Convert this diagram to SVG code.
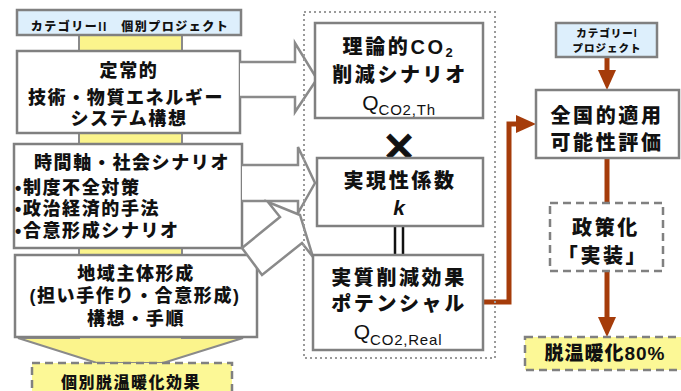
<svg xmlns="http://www.w3.org/2000/svg" width="681" height="391" viewBox="0 0 681 391">
<defs>
<style>
.box{fill:#fff;stroke:#808080;stroke-width:2.5}
.blue{fill:#ddeffc;stroke:#808080;stroke-width:2.5}
.dash{stroke:#808080;stroke-width:2.5;stroke-dasharray:8 5}
.yel{fill:#fcf896}
.band{fill:#fbf48c;stroke:#8a8a8a;stroke-width:2}
.fat{fill:#fff;stroke:#8a8a8a;stroke-width:2.5;stroke-linejoin:miter}
.brown{stroke:#a53c0a;stroke-width:5;fill:none}
.t{font-family:"Liberation Sans","Noto Sans CJK JP",sans-serif;font-weight:900;fill:#111;text-anchor:middle}
.l{text-anchor:start}
.s12{font-size:12px;letter-spacing:1.5px}
.s11{font-size:10.5px;letter-spacing:1px}
.s16{font-size:16px;letter-spacing:1.5px}
.s18{font-size:18px;letter-spacing:1.6px}
.s20{font-size:20px;letter-spacing:2.6px}
.q{font-family:"Liberation Sans",sans-serif;font-size:21px;fill:#111;text-anchor:middle}
</style>
<marker id="ah" viewBox="0 0 20 18" refX="4" refY="9" markerWidth="20" markerHeight="18" orient="auto" markerUnits="userSpaceOnUse">
<path d="M0,0 L20,9 L0,18 Z" fill="#a53c0a"/>
</marker>
</defs>
<rect width="681" height="391" fill="#fff"/>

<g id="band">
<path class="band" d="M79,35 L182,35 L182,338 L243,338 L163,363 L97,363 L18,338 L79,338 Z"/>
</g>

<g id="cat2">
<rect class="blue" x="17" y="10" width="224" height="25"/>
<text class="t s12" x="130" y="30.5">カテゴリーII　個別プロジェクト</text>
</g>

<g id="steady">
<rect class="box" x="17" y="51" width="223" height="82"/>
<text class="t s18" x="129" y="77">定常的</text>
<text class="t s18" x="126" y="104">技術・物質エネルギー</text>
<text class="t s18" x="129" y="125">システム構想</text>
</g>

<g id="social">
<rect class="box" x="14" y="144" width="228" height="104"/>
<text class="t s18" x="132" y="168.5">時間軸・社会シナリオ</text>
<text class="t s18 l" x="15" y="193.5">•制度不全対策</text>
<text class="t s18 l" x="15" y="215">•政治経済的手法</text>
<text class="t s18 l" x="15" y="237">•合意形成シナリオ</text>
</g>

<g id="local">
<rect class="box" x="15" y="255" width="242" height="82"/>
<text class="t s18" x="136" y="280">地域主体形成</text>
<text class="t s18" x="135" y="302">(担い手作り・合意形成)</text>
<text class="t s18" x="136" y="325">構想・手順</text>
</g>

<g id="connectors">
<path class="fat" d="M240,62 H295 V43 L317,79 L295,112 V97 H240"/>
<path class="fat" d="M242,165 H298 V147 L315,183 L298,213 V201 H242"/>
<path class="fat" d="M242,248 L280,217 L268,202 L300,215 L313,257 L302,243 L262,275 Z"/>
<line x1="395" y1="227" x2="395" y2="254" stroke="#111" stroke-width="2.5"/>
<line x1="403" y1="227" x2="403" y2="254" stroke="#111" stroke-width="2.5"/>
<path class="brown" d="M607,57 V74" marker-end="url(#ah)"/>
<path class="brown" d="M483,302 H509 V124 H520" marker-end="url(#ah)"/>
<path class="brown" d="M607,158 V203"/>
<path class="brown" d="M607,271 V321" marker-end="url(#ah)"/>
</g>

<g id="container">
<rect x="304" y="12" width="191" height="346" fill="none" stroke="#9a9a9a" stroke-width="2" stroke-dasharray="2 3"/>
</g>

<g id="theory">
<rect class="box" x="315" y="23" width="168" height="95"/>
<text class="t s20" x="399" y="53.5">理論的CO<tspan font-size="13" dy="3.5">2</tspan></text>
<text class="t s20" x="400" y="81.5">削減シナリオ</text>
<text class="q" x="399" y="110">Q<tspan font-size="15" dy="5" letter-spacing="0.8">CO2,Th</tspan></text>
</g>

<g id="times">
<text x="399" y="160" font-family="'DejaVu Sans',sans-serif" font-size="42" font-weight="bold" text-anchor="middle" fill="#111" stroke="#111" stroke-width="0.8">×</text>
</g>

<g id="feasibility">
<rect class="box" x="317" y="158" width="166" height="68"/>
<text class="t s20" x="400" y="187.5">実現性係数</text>
<text class="t" x="399" y="215" font-size="21" font-style="italic" font-weight="bold">k</text>
</g>

<g id="real">
<rect class="box" x="313" y="255" width="170" height="95"/>
<text class="t s20" x="399" y="284.5">実質削減効果</text>
<text class="t s20" x="399" y="310.5">ポテンシャル</text>
<text class="q" x="398" y="339">Q<tspan font-size="15" dy="6" letter-spacing="0.8">CO2,Real</tspan></text>
</g>

<g id="cat1">
<rect class="blue" x="556" y="23" width="101" height="34"/>
<text class="t s11" x="607" y="37">カテゴリーI</text>
<text class="t s11" x="607" y="52">プロジェクト</text>
</g>

<g id="national">
<rect class="box" x="536" y="90" width="143" height="68"/>
<text class="t s20" x="607" y="122.5">全国的適用</text>
<text class="t s20" x="607" y="149.5">可能性評価</text>
</g>

<g id="policy">
<rect class="dash" fill="#fff" x="550" y="203" width="113" height="68"/>
<text class="t s20" x="606" y="234.5">政策化</text>
<text class="t s20" x="603" y="262.5">「実装」</text>
</g>

<g id="effect80">
<rect class="dash yel" x="525" y="337" width="170" height="33"/>
<text class="t" x="605" y="360" font-size="19" letter-spacing="1">脱温暖化80%</text>
</g>

<g id="individual">
<rect class="dash yel" x="32" y="363" width="200" height="40"/>
<text class="t s16" x="131" y="388">個別脱温暖化効果</text>
</g>
</svg>
